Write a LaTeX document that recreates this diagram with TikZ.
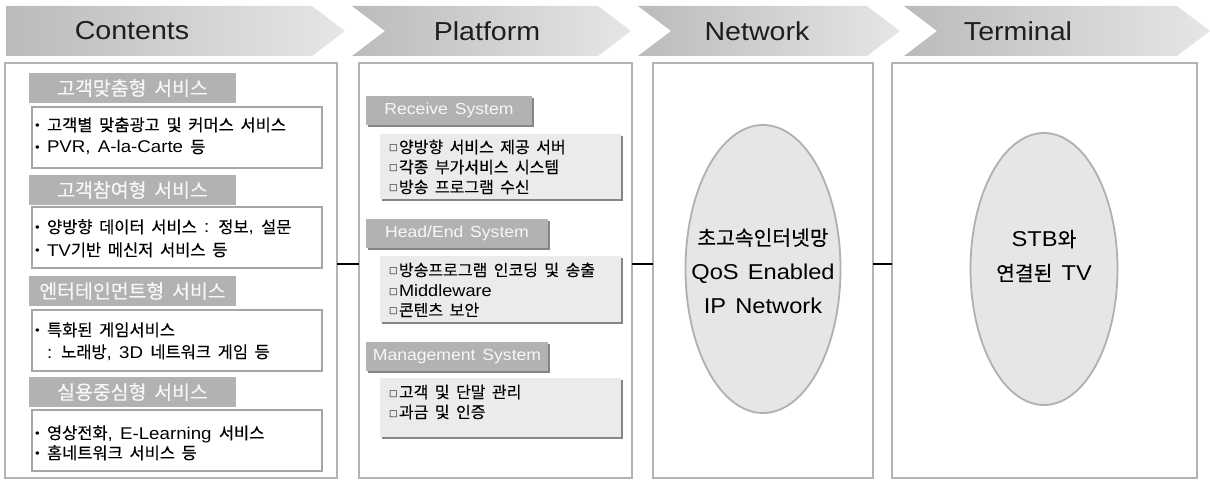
\documentclass[tikz,border=0pt]{standalone}
\usepackage{fontspec}
\setmainfont{Liberation Sans}[FakeStretch=1.1, WordSpace=1.4]
\newfontfamily\krfont{Noto Sans CJK KR}[Scale=0.97, WordSpace=1.8, FakeBold=0.25]
\newfontfamily\djvfont{DejaVu Sans}
\usetikzlibrary{shapes.geometric,shadows,calc}
\newcommand\kr[1]{{\krfont #1}}
\newcommand\fsz[1]{\fontsize{#1}{#1}\selectfont}
\newcommand\bul{\makebox[12pt][l]{\raisebox{1.5pt}{\fsz{12}•}}}
\newcommand\psq{\makebox[10pt][l]{\raisebox{2pt}{\djvfont\fsz{9}□}}}
\definecolor{chevL}{HTML}{BBBBBB}
\definecolor{chevR}{HTML}{E6E6E6}
\definecolor{txtdark}{HTML}{1E1E1E}
\definecolor{boxgray}{HTML}{B3B3B3}
\definecolor{hdrgray}{HTML}{B2B2B2}
\definecolor{bodygray}{HTML}{A6A6A6}
\definecolor{pbodyfill}{HTML}{EBEBEB}
\definecolor{shadowgray}{HTML}{858585}
\definecolor{ellfill}{HTML}{E6E6E6}
\definecolor{ellline}{HTML}{B0B0B0}
\definecolor{hdrtext}{HTML}{F7F7F7}
\begin{document}
\begin{tikzpicture}[x=1pt,y=-1pt,
  every node/.append style={outer sep=0pt},
  chev/.style={left color=chevL, right color=chevR, draw=none},
  chevtxt/.style={font=\fsz{26}, text=txtdark, inner sep=0pt},
  outerbox/.style={draw=boxgray, line width=2pt, fill=white, anchor=north west, inner sep=0pt, minimum height=415pt},
  chdr/.style={fill=hdrgray, text=hdrtext, font=\fsz{20}, minimum width=207pt, minimum height=30pt, inner sep=0pt, anchor=north west},
  cbody/.style={draw=bodygray, line width=1.6pt, fill=white, minimum width=290pt, minimum height=61pt, anchor=north west, inner sep=0pt},
  ctxt/.style={font=\fsz{17}, text=black, anchor=base west, inner sep=0pt},
  phdr/.style={fill=hdrgray, text=hdrtext, font=\fsz{16}, minimum height=29pt, inner sep=0pt, anchor=north west,
    general shadow={fill=shadowgray, shadow xshift=2pt, shadow yshift=-2pt}},
  pbody/.style={fill=pbodyfill, minimum width=241pt, anchor=north west, inner sep=0pt,
    general shadow={fill=shadowgray, shadow xshift=2pt, shadow yshift=-2pt}},
  ptxt/.style={font=\fsz{16.5}, text=black, anchor=base west, inner sep=0pt},
  ell/.style={ellipse, fill=ellfill, draw=ellline, line width=1.8pt, inner sep=0pt},
  elltxt/.style={font=\fontsize{21.5}{34}\selectfont, text=black, align=center, inner sep=0pt},
  conn/.style={line width=2.2pt, black}]
\useasboundingbox (0,0) rectangle (1210,481);

% header chevrons
\path[chev] (6,6) -- (312,6) -- (345,31) -- (312,56) -- (6,56) -- cycle;
\path[chev] (352,6) -- (598,6) -- (631,31) -- (598,56) -- (352,56) -- (385,31) -- cycle;
\path[chev] (638,6) -- (867,6) -- (900,31) -- (867,56) -- (638,56) -- (671,31) -- cycle;
\path[chev] (904,6) -- (1177,6) -- (1210,31) -- (1177,56) -- (904,56) -- (937,31) -- cycle;
\node[chevtxt] (hcont) at (132,31) {Contents};
\node[chevtxt] (hplat) at (487,31) {Platform};
\node[chevtxt] (hnet) at (757,31) {Network};
\node[chevtxt] (hterm) at (1018,31) {Terminal};

% outer boxes
\node[outerbox, minimum width=332pt] (contentsbox) at (5,63) {};
\node[outerbox, minimum width=273pt] (platformbox) at (359,63) {};
\node[outerbox, minimum width=220pt] (networkbox) at (653,63) {};
\node[outerbox, minimum width=305pt] (terminalbox) at (892,63) {};

% connectors
\draw[conn] ([yshift=6.5pt]contentsbox.east) -- ([yshift=6.5pt]platformbox.west);
\draw[conn] ([yshift=6.5pt]platformbox.east) -- ([yshift=6.5pt]networkbox.west);
\draw[conn] ([yshift=6.5pt]networkbox.east) -- ([yshift=6.5pt]terminalbox.west);

% Contents column
\node[chdr] (ch1) at (29,73) {\kr{고객맞춤형 서비스}};
\node[cbody] (cb1) at (32,107) {};
\node[ctxt] (c1a) at (35,131) {\bul\kr{고객별 맞춤광고 및 커머스 서비스}};
\node[ctxt] (c1b) at (35,153) {\bul PVR, A-la-Carte \kr{등}};

\node[chdr] (ch2) at (29,175) {\kr{고객참여형 서비스}};
\node[cbody] (cb2) at (32,207) {};
\node[ctxt] (c2a) at (35,233) {\bul\kr{양방향 데이터 서비스} : \kr{정보}, \kr{설문}};
\node[ctxt] (c2b) at (35,256) {\bul TV\kr{기반 메신저 서비스 등}};

\node[chdr] (ch3) at (29,276) {\kr{엔터테인먼트형 서비스}};
\node[cbody] (cb3) at (32,310) {};
\node[ctxt] (c3a) at (35,336) {\bul\kr{특화된 게임서비스}};
\node[ctxt] (c3b) at (35,358) {\phantom{\bul}: \kr{노래방}, 3D \kr{네트워크 게임 등}};

\node[chdr] (ch4) at (29,377) {\kr{실용중심형 서비스}};
\node[cbody] (cb4) at (32,410) {};
\node[ctxt] (c4a) at (35,439) {\bul\kr{영상전화}, E-Learning \kr{서비스}};
\node[ctxt] (c4b) at (35,459) {\bul\kr{홈네트워크 서비스 등}};

% Platform column
\node[phdr, minimum width=166pt] (ph1) at (366,96) {Receive System};
\node[pbody, minimum height=65pt] (pb1) at (380,134) {};
\node[ptxt] (p1a) at (389,153) {\psq\kr{양방향 서비스 제공 서버}};
\node[ptxt] (p1b) at (389,173) {\psq\kr{각종 부가서비스 시스템}};
\node[ptxt] (p1c) at (389,193) {\psq\kr{방송 프로그램 수신}};

\node[phdr, minimum width=182pt] (ph2) at (366,219) {Head/End System};
\node[pbody, minimum height=66pt] (pb2) at (380,256) {};
\node[ptxt] (p2a) at (389,276) {\psq\kr{방송프로그램 인코딩 및 송출}};
\node[ptxt] (p2b) at (389,296) {\psq Middleware};
\node[ptxt] (p2c) at (389,316) {\psq\kr{콘텐츠 보안}};

\node[phdr, minimum width=182pt] (ph3) at (366,342) {Management System};
\node[pbody, minimum height=59pt] (pb3) at (380,378) {};
\node[ptxt] (p3a) at (389,398) {\psq\kr{고객 및 단말 관리}};
\node[ptxt] (p3b) at (389,418) {\psq\kr{과금 및 인증}};

% Network and Terminal
\node[ell, minimum width=155pt, minimum height=288pt] (netell) at (763,269) {};
\node[elltxt] (nettxt) at (763,271) {{\krfont\fontsize{21}{34}\selectfont 초고속인터넷망}\\QoS Enabled\\IP Network};
\node[ell, minimum width=147pt, minimum height=272pt] (termell) at (1044,269) {};
\node[elltxt] (termtxt) at (1044,256) {STB{\krfont\fontsize{21}{34}\selectfont 와}\\{\krfont\fontsize{21}{34}\selectfont 연결된} TV};
\end{tikzpicture}
\end{document}
